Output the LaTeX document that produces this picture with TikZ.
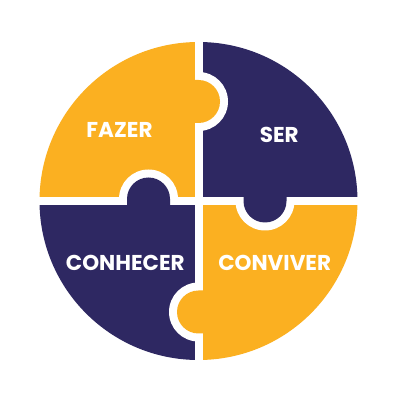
\documentclass[tikz,border=0pt]{standalone}
\usepackage{fontspec}
\setmainfont{Poppins}
\definecolor{gold}{HTML}{FBB021}
\definecolor{navy}{HTML}{2E2862}
\newcommand\pzknob[5]{%
  \begin{scope}[shift={(#1,#2)},rotate=#3]
    \fill[white] (0,-29.5) arc[start angle=-90,end angle=90,radius=29.5] -- cycle;
    \fill[#4] (-#5,-21.5) -- (0,-21.5) arc[start angle=-90,end angle=90,radius=21.5] -- (-#5,21.5) -- cycle;
  \end{scope}}
\begin{document}
\begin{tikzpicture}[x=1pt,y=1pt,
  lbl/.style={text=white,font=\bfseries\fontsize{21.5}{21.5}\selectfont,inner sep=0pt}]
\useasboundingbox (0,0) rectangle (400,400);
\fill[white] (0,0) rectangle (400,400);
\begin{scope}[shift={(198.5,199)}]
  \begin{scope}
    \clip (0,0) circle[radius=159];
    \fill[gold] (-4,4) rectangle (-170,170);
    \fill[navy] (4,4) rectangle (170,170);
    \fill[navy] (-4,-4) rectangle (-170,-170);
    \fill[gold] (4,-4) rectangle (170,-170);
  \end{scope}
  \pzknob{0}{99.5}{0}{gold}{4.5}
  \pzknob{-50}{2}{90}{navy}{6.5}
  \pzknob{66.5}{0}{-90}{navy}{4.5}
  \pzknob{0}{-111}{180}{gold}{4.5}
\end{scope}
\node[lbl] (fazer) at (119.5,270) {FAZER};
\node[lbl] (ser) at (279.3,264.7) {SER};
\node[lbl] (conhecer) at (125.3,137) {CONHECER};
\node[lbl] (conviver) at (274.7,137) {CONVIVER};
\end{tikzpicture}
\end{document}
